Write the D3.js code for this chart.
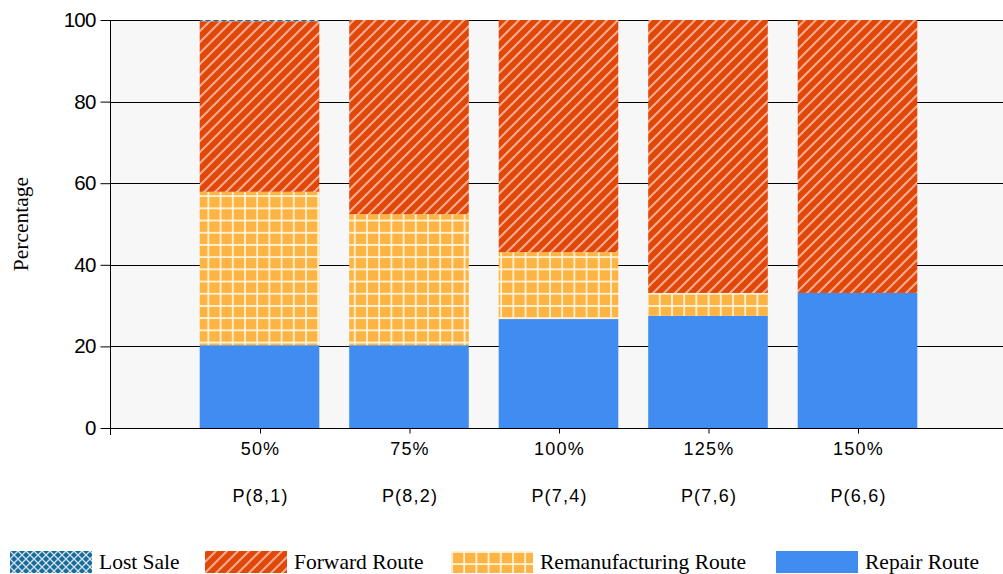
<!DOCTYPE html>
<html>
<head>
<meta charset="utf-8">
<script src="https://cdn.jsdelivr.net/npm/d3@7"></script>
<style>
html,body{margin:0;padding:0;background:#fff;}
svg{display:block;}
</style>
</head>
<body>
<svg id="chart" width="1003" height="574"></svg>
<script>
const categories = ["50%", "75%", "100%", "125%", "150%"];
const subLabels = ["P(8,1)", "P(8,2)", "P(7,4)", "P(7,6)", "P(6,6)"];
const repair = [20.3, 20.3, 26.7, 27.5, 33.1];
const reman = [37.6, 32.1, 16.4, 5.6, 0];
const forward = [41.8, 47.6, 56.9, 66.9, 66.9];
const lostSale = [0.3, 0, 0, 0, 0];
const seriesNames = ["Lost Sale", "Forward Route", "Remanufacturing Route", "Repair Route"];
const yTicks = [0, 20, 40, 60, 80, 100];

const svg = d3.select("#chart");
const W = 1003, H = 574;
const m = {left: 110, top: 20, right: 0, bottom: 146};
const plotBottom = H - m.bottom; // 428

const defs = svg.append("defs");
// Forward: orange with diagonal light stripes
const sp = 11;
const pf = defs.append("pattern").attr("id", "pFwd").attr("patternUnits", "userSpaceOnUse")
  .attr("width", sp).attr("height", sp);
pf.append("rect").attr("width", sp).attr("height", sp).attr("fill", "#e2470a");
pf.append("path").attr("d", `M-2,2 L2,-2 M0,${sp} L${sp},0 M${sp - 2},${sp + 2} L${sp + 2},${sp - 2}`)
  .attr("stroke", "#f4ad90").attr("stroke-width", 2);
// Reman: orange-yellow with white grid
const gs = 12.2;
const pr = defs.append("pattern").attr("id", "pRem").attr("patternUnits", "userSpaceOnUse")
  .attr("width", gs).attr("height", gs);
pr.append("rect").attr("width", gs).attr("height", gs).attr("fill", "#fdb443");
pr.append("path").attr("d", `M1,0 V${gs} M0,1 H${gs}`)
  .attr("stroke", "#fff1d6").attr("stroke-width", 1.8);
// Lost sale: blue with white diamond lattice
const pl = defs.append("pattern").attr("id", "pLost").attr("patternUnits", "userSpaceOnUse")
  .attr("width", 8).attr("height", 8);
pl.append("rect").attr("width", 8).attr("height", 8).attr("fill", "#1a6a9a");
pl.append("path").attr("d", "M0,0 L8,8 M8,0 L0,8")
  .attr("stroke", "#cfe3ef").attr("stroke-width", 1.3);

const fills = {"Lost Sale": "url(#pLost)", "Forward Route": "url(#pFwd)", "Remanufacturing Route": "url(#pRem)", "Repair Route": "#418cf0"};

const x = d3.scalePoint().domain(categories).range([m.left, W + 4]).padding(1);
const bw = x.step() * 0.8;
const y = d3.scaleLinear().domain([0, 100]).range([plotBottom, m.top]);

// plot background
svg.append("rect").attr("x", m.left).attr("y", m.top).attr("width", W - m.left).attr("height", plotBottom - m.top)
  .attr("fill", "#f7f7f7");

// gridlines
svg.append("g").selectAll("line").data(yTicks.filter(d => d > 0)).join("line")
  .attr("x1", m.left).attr("x2", W).attr("y1", d => Math.round(y(d)) + 0.5).attr("y2", d => Math.round(y(d)) + 0.5)
  .attr("stroke", "#000").attr("stroke-width", 1);

// stacked data
const rows = categories.map((c, i) => ({cat: c, "Repair Route": repair[i], "Remanufacturing Route": reman[i], "Forward Route": forward[i], "Lost Sale": lostSale[i]}));
const stackKeys = ["Repair Route", "Remanufacturing Route", "Forward Route", "Lost Sale"];
const stacked = d3.stack().keys(stackKeys)(rows);

svg.append("g").selectAll("g").data(stacked).join("g")
  .attr("fill", d => fills[d.key])
  .selectAll("rect").data(d => d).join("rect")
  .attr("x", d => x(d.data.cat) - bw / 2)
  .attr("width", bw)
  .attr("y", d => y(d[1]))
  .attr("height", d => Math.max(0, y(d[0]) - y(d[1])));

// y axis
const yAxis = svg.append("g").attr("transform", `translate(${m.left + 0.5},0)`)
  .call(d3.axisLeft(y).tickValues(yTicks).tickSize(10).tickPadding(5));
yAxis.select(".domain").attr("d", `M0,${m.top}V${plotBottom + 7}`).attr("stroke", "#000");
yAxis.selectAll(".tick line").attr("stroke", "#000");
yAxis.selectAll("text").attr("font-family", "Liberation Sans, Arial, sans-serif").attr("font-size", 20.5)
  .attr("letter-spacing", -0.8).attr("fill", "#000");

// x axis
const xAxis = svg.append("g").attr("transform", `translate(0.5,${plotBottom + 0.5})`)
  .call(d3.axisBottom(x).tickSize(5).tickPadding(8));
xAxis.select(".domain").attr("d", `M${m.left},0H${W}`).attr("stroke", "#000");
xAxis.selectAll(".tick line").attr("stroke", "#000");
xAxis.selectAll(".tick text").remove();
xAxis.selectAll(".tick").append("text")
  .attr("y", 26).attr("text-anchor", "middle")
  .attr("font-family", "Liberation Sans, Arial, sans-serif").attr("font-size", 18).attr("fill", "#000")
  .attr("letter-spacing", 1.2)
  .text(d => d);
xAxis.selectAll(".tick").append("text")
  .attr("y", 73).attr("text-anchor", "middle")
  .attr("font-family", "Liberation Sans, Arial, sans-serif").attr("font-size", 18).attr("fill", "#000")
  .attr("letter-spacing", 1.2)
  .text((d, i) => subLabels[i]);

// y label
svg.append("text").attr("transform", `translate(28,${(m.top + plotBottom) / 2}) rotate(-90)`)
  .attr("text-anchor", "middle").attr("font-family", "Liberation Serif, Times New Roman, serif")
  .attr("font-size", 21.5).attr("fill", "#000").text("Percentage");

// legend
const legendX = [10, 205, 451, 776];
const lg = svg.append("g").selectAll("g").data(seriesNames).join("g")
  .attr("transform", (d, i) => `translate(${legendX[i]},551)`);
lg.append("rect").attr("width", 82).attr("height", 22).attr("fill", d => fills[d]);
lg.append("text").attr("x", 89).attr("y", 18)
  .attr("font-family", "Liberation Serif, Times New Roman, serif").attr("font-size", 21.5).attr("fill", "#000")
  .text(d => d);
</script>
</body>
</html>
